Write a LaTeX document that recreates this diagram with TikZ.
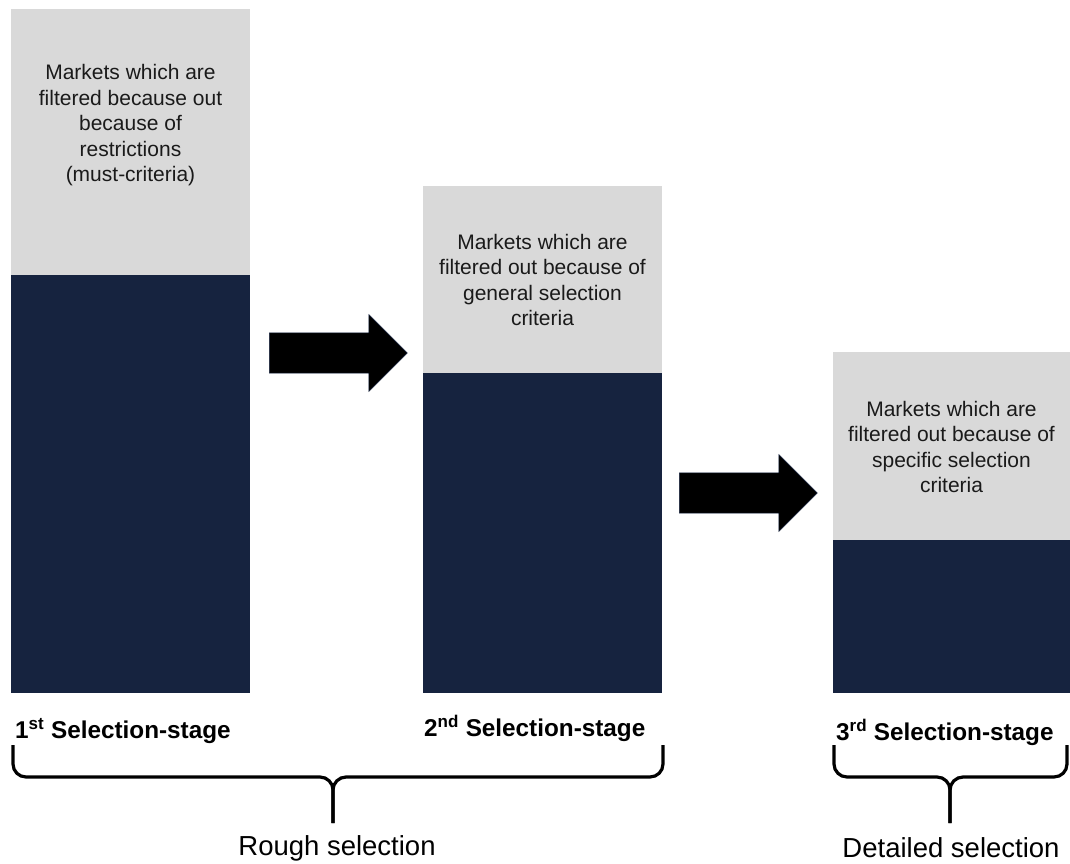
\documentclass[tikz,border=0pt]{standalone}
\usepackage{fontspec}
\setmainfont{Liberation Sans}
\usepackage{tikz}
\usetikzlibrary{positioning,shapes.arrows}
\definecolor{barnavy}{HTML}{16233F}
\definecolor{bargray}{HTML}{D9D9D9}
\definecolor{inktext}{HTML}{1A1A1A}

\begin{document}
\begin{tikzpicture}[x=1pt, y=-1pt,
  bar/.style={inner sep=0pt, outer sep=0pt, anchor=north west, minimum width=239pt},
  outbar/.style={bar, fill=bargray},
  inbar/.style={bar, fill=barnavy},
  txt/.style={align=center, text=inktext, inner sep=0pt, font=\fontsize{21}{25.5}\selectfont},
  stage/.style={anchor=west, inner sep=0pt, font=\fontsize{24.3}{28}\selectfont\bfseries},
  sel/.style={inner sep=0pt, font=\fontsize{27.5}{32}\selectfont},
  step arrow/.style={single arrow, fill=black, draw=barnavy, line width=0.6pt, anchor=tail,
    inner xsep=0pt, inner ysep=19.5pt, minimum width=77pt, minimum height=138pt,
    single arrow tip angle=90, single arrow head extend=18pt},
  brace/.style={line width=3.2pt, rounded corners=13pt}]
  \useasboundingbox (0,0) rectangle (1070,863);

  % stage 1
  \node[outbar, minimum height=266pt] (out1) at (11,9) {};
  \node[inbar, minimum height=418pt] (in1) at (11,275) {};
  \node[txt] (txt1) at (130.5,125.5) {Markets which are\\filtered because out\\because of\\restrictions\\(must-criteria)};

  % stage 2
  \node[outbar, minimum height=187pt] (out2) at (423,186) {};
  \node[inbar, minimum height=320pt] (in2) at (423,373) {};
  \node[txt] (txt2) at (542.5,280) {Markets which are\\filtered out because of\\general selection\\criteria};

  % stage 3
  \node[outbar, minimum height=188pt, minimum width=237pt] (out3) at (833,352) {};
  \node[inbar, minimum height=153pt, minimum width=237pt] (in3) at (833,540) {};
  \node[txt] (txt3) at (951.5,447) {Markets which are\\filtered out because of\\specific selection\\criteria};

  % arrows between the stages
  \node[step arrow] (go12) at (269,353) {};
  \node[step arrow] (go23) at (679,493) {};

  % stage labels
  \node[stage] (lab1) at (15,731) {1\textsuperscript{st} Selection-stage};
  \node[stage] (lab2) at (424,728) {2\textsuperscript{nd} Selection-stage};
  \node[stage] (lab3) at (836,732) {3\textsuperscript{rd} Selection-stage};

  % braces
  \coordinate (b1l) at (13,745);
  \coordinate (b1r) at (663,745);
  \coordinate (b1m) at (333,777);
  \coordinate (b1t) at (333,823);
  \draw[brace] (b1l) |- (b1m) -- (b1t);
  \draw[brace] (b1r) |- (b1m) -- (b1t);
  \coordinate (b2l) at (834,745);
  \coordinate (b2r) at (1067,745);
  \coordinate (b2m) at (950,777);
  \coordinate (b2t) at (950,823);
  \draw[brace] (b2l) |- (b2m) -- (b2t);
  \draw[brace] (b2r) |- (b2m) -- (b2t);

  \node[sel] (rough) at (337,848) {Rough selection};
  \node[sel] (detail) at (951,848) {Detailed selection};
\end{tikzpicture}
\end{document}
